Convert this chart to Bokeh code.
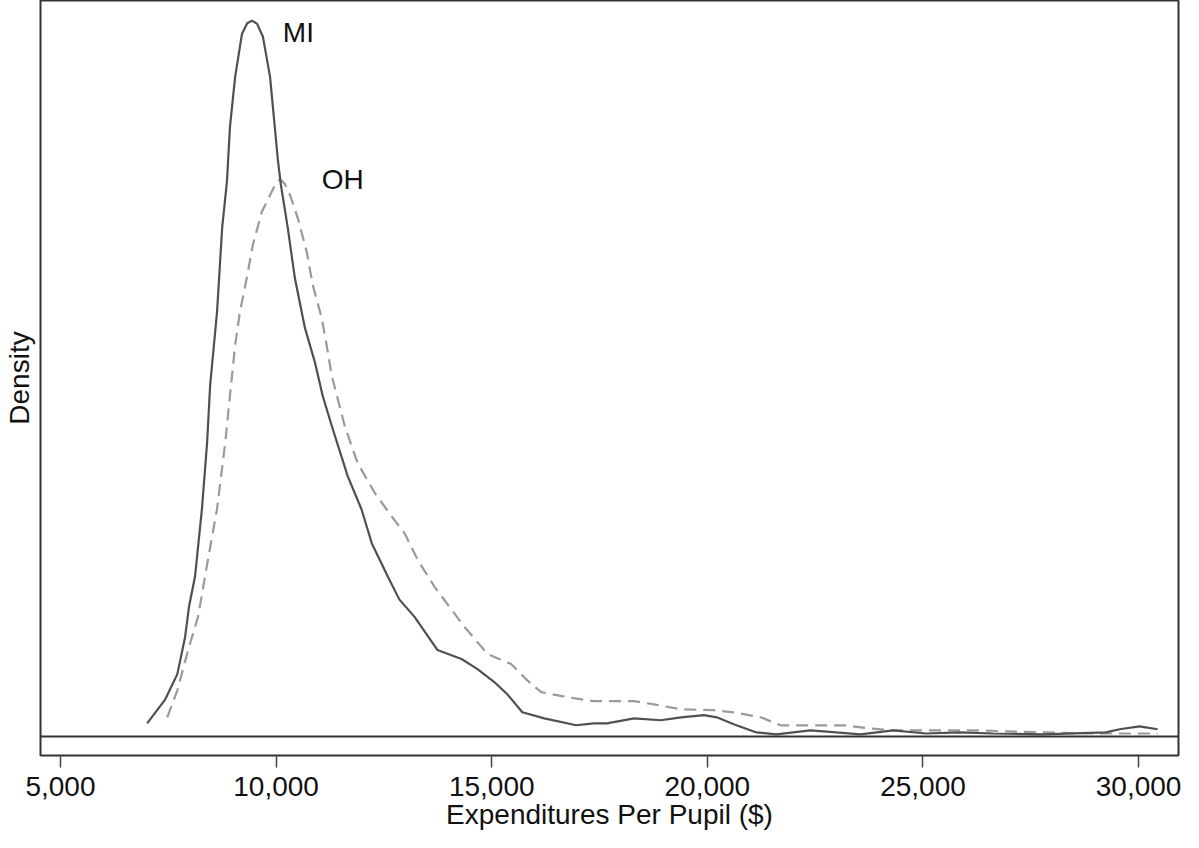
from bokeh.plotting import figure
from bokeh.models import Range1d, FixedTicker, NumeralTickFormatter, Span
from bokeh.core.properties import value
from bokeh.embed import file_html
from bokeh.resources import INLINE

# Expenditures per pupil ($) and kernel density (x 1e-4) for Michigan
mi_x = [7010, 7430, 7710, 7890, 7980, 8120, 8280, 8400, 8470, 8630, 8750, 8860,
        8930, 9050, 9210, 9330, 9440, 9560, 9695, 9860, 9970, 10040, 10110,
        10270, 10435, 10670, 10900, 11080, 11290, 11660, 11980, 12220, 12590,
        12860, 13210, 13740, 14300, 14670, 15060, 15360, 15710, 16220, 16960,
        17370, 17670, 18300, 18920, 19390, 19920, 20220, 20610, 21140, 21600,
        22390, 22990, 23550, 24310, 25070, 25860, 26620, 27780, 29240, 29560,
        30020, 30440]
mi_d = [0.049, 0.140, 0.235, 0.375, 0.489, 0.603, 0.857, 1.107, 1.323, 1.600,
        1.919, 2.093, 2.298, 2.488, 2.651, 2.690, 2.700, 2.688, 2.639, 2.488,
        2.298, 2.177, 2.082, 1.919, 1.729, 1.540, 1.411, 1.285, 1.172, 0.982,
        0.857, 0.728, 0.603, 0.516, 0.451, 0.326, 0.292, 0.254, 0.205, 0.159,
        0.091, 0.068, 0.042, 0.049, 0.049, 0.068, 0.061, 0.072, 0.080, 0.072,
        0.046, 0.015, 0.008, 0.023, 0.015, 0.008, 0.023, 0.011, 0.015, 0.011,
        0.008, 0.015, 0.027, 0.038, 0.027]

# Ohio
oh_x = [7475, 7710, 7960, 8190, 8420, 8630, 8820, 8930, 9050, 9160, 9320, 9460,
        9670, 9900, 10000, 10090, 10200, 10320, 10500, 10710, 10850, 11060,
        11200, 11290, 11590, 11890, 12290, 12680, 12980, 13280, 13670, 14070,
        14370, 14900, 15450, 15820, 16150, 16750, 17370, 18300, 18760, 19390,
        20150, 20610, 21240, 21700, 22390, 23150, 23780, 24310, 25070, 26230,
        27780, 28940, 30440]
oh_d = [0.072, 0.174, 0.326, 0.451, 0.667, 0.857, 1.107, 1.285, 1.475, 1.600,
        1.729, 1.854, 1.979, 2.055, 2.088, 2.101, 2.085, 2.044, 1.957, 1.828,
        1.703, 1.577, 1.449, 1.361, 1.172, 1.031, 0.918, 0.830, 0.766, 0.667,
        0.565, 0.478, 0.413, 0.311, 0.273, 0.212, 0.167, 0.148, 0.133, 0.133,
        0.121, 0.102, 0.099, 0.091, 0.072, 0.042, 0.042, 0.042, 0.030, 0.023,
        0.023, 0.023, 0.015, 0.011, 0.011]

label_text = ["MI", "OH"]
label_x = [10157, 11059]
label_y = [2.654, 2.101]

x_ticks = [5000, 10000, 15000, 20000, 25000, 30000]

FONT = "Liberation Sans"

p = figure(width=1183, height=832, output_backend="svg", toolbar_location=None,
           x_range=Range1d(4537, 30925), y_range=Range1d(-0.072, 2.776),
           min_border_left=37, min_border_right=5, min_border_top=0,
           min_border_bottom=0)
p.background_fill_color = "white"
p.border_fill_color = "white"
p.outline_line_color = "#333333"
p.outline_line_width = 2
p.xgrid.visible = False
p.ygrid.visible = False

p.xaxis.ticker = FixedTicker(ticks=x_ticks)
p.xaxis.formatter = NumeralTickFormatter(format="0,0")
p.xaxis.axis_line_color = None
p.xaxis.major_tick_in = 0
p.xaxis.major_tick_out = 12
p.xaxis.major_tick_line_color = "#444444"
p.xaxis.major_tick_line_width = 1.5
p.xaxis.minor_tick_line_color = None
p.xaxis.major_label_standoff = 9
p.xaxis.major_label_text_font = FONT
p.xaxis.major_label_text_font_size = "28px"
p.xaxis.major_label_text_color = "#111111"
p.xaxis.axis_label = "Expenditures Per Pupil ($)"
p.xaxis.axis_label_text_font = FONT
p.xaxis.axis_label_text_font_size = "28px"
p.xaxis.axis_label_text_font_style = "normal"
p.xaxis.axis_label_text_color = "#111111"
p.xaxis.axis_label_standoff = 0

p.yaxis.ticker = FixedTicker(ticks=[])
p.yaxis.axis_line_color = None
p.yaxis.major_tick_line_color = None
p.yaxis.minor_tick_line_color = None
p.yaxis.major_label_text_font_size = "0px"
p.yaxis.major_label_standoff = 0
p.yaxis.axis_label = "Density"
p.yaxis.axis_label_text_font = FONT
p.yaxis.axis_label_text_font_size = "28px"
p.yaxis.axis_label_text_font_style = "normal"
p.yaxis.axis_label_text_color = "#111111"
p.yaxis.axis_label_standoff = 6

p.add_layout(Span(location=0, dimension="width", line_color="#333333", line_width=2))

p.line(oh_x, oh_d, line_color="#9a9a9a", line_width=2.2, line_dash="12 7")
p.line(mi_x, mi_d, line_color="#505050", line_width=2.2)

p.text(x=label_x, y=label_y, text=label_text, text_font=value(FONT),
       text_font_size="28px", text_baseline="middle", text_align="left",
       text_color="#111111")

open("out.html", "w").write(file_html(p, INLINE))
